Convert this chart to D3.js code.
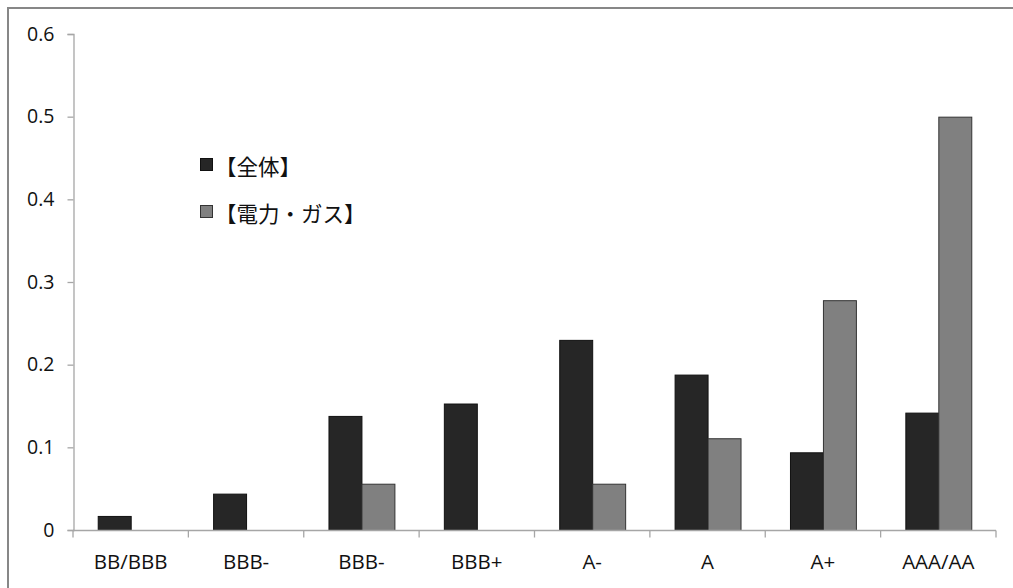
<!DOCTYPE html>
<html>
<head>
<meta charset="utf-8">
<script src="https://cdn.jsdelivr.net/npm/d3@7"></script>
<style>
  html, body { margin: 0; padding: 0; background: #fff; }
  svg { display: block; }
</style>
</head>
<body>
<svg id="chart" width="1013" height="588"></svg>
<script>
// Rating categories along the x axis
const categories = ["BB/BBB", "BBB-", "BBB-", "BBB+", "A-", "A", "A+", "AAA/AA"];
// Series names shown in the legend
const seriesNames = ["【全体】", "【電力・ガス】"];
// Values for each series, one per category
const valuesAll = [0.017, 0.044, 0.138, 0.153, 0.230, 0.188, 0.094, 0.142];
const valuesPower = [0, 0, 0.056, 0, 0.056, 0.111, 0.278, 0.500];
// Y axis ticks
const yTicks = [0, 0.1, 0.2, 0.3, 0.4, 0.5, 0.6];

const seriesValues = [valuesAll, valuesPower];
const fills = ["#262626", "#808080"];
const strokes = ["#111", "#333"];

const svg = d3.select("#chart");
const W = 1013, H = 588;
const plot = { left: 73, right: 996, top: 34, bottom: 530 };

// outer chart frame (extends past the right/bottom edge)
svg.append("rect")
  .attr("x", 8).attr("y", 8)
  .attr("width", W + 20).attr("height", H + 20)
  .attr("fill", "#fff")
  .attr("stroke", "#878787")
  .attr("stroke-width", 2);

// index-based band so duplicate category names keep separate slots
const x0 = d3.scaleBand()
  .domain(d3.range(categories.length))
  .range([plot.left, plot.right])
  .paddingInner(0).paddingOuter(0);

const x1 = d3.scaleBand()
  .domain(d3.range(seriesNames.length))
  .range([0, x0.bandwidth()])
  .paddingInner(0).paddingOuter(0.75);

const y = d3.scaleLinear().domain([0, 0.6]).range([plot.bottom, plot.top]);

// bars
const groups = svg.append("g").selectAll("g")
  .data(categories.map((c, i) => i))
  .join("g")
  .attr("transform", i => `translate(${x0(i)},0)`);

groups.selectAll("rect")
  .data(i => seriesValues.map((vals, s) => ({ s, v: vals[i] })).filter(d => d.v > 0))
  .join("rect")
  .attr("x", d => x1(d.s) + 0.5)
  .attr("width", x1.bandwidth())
  .attr("y", d => y(d.v) + 0.5)
  .attr("height", d => y(0) - y(d.v))
  .attr("fill", d => fills[d.s])
  .attr("stroke", d => strokes[d.s])
  .attr("stroke-width", 1);

// y axis
const yAxis = svg.append("g")
  .attr("transform", `translate(${plot.left + 0.5},0)`)
  .call(d3.axisLeft(y).tickValues(yTicks).tickSize(6).tickPadding(13)
    .tickFormat(d => d === 0 ? "0" : d3.format(".1f")(d)));
yAxis.select(".domain").attr("stroke", "#a6a6a6").attr("stroke-width", 1.3);
yAxis.selectAll(".tick line").attr("stroke", "#a6a6a6").attr("stroke-width", 1.3);
yAxis.selectAll(".tick text")
  .attr("font-family", "'Open Sans', sans-serif")
  .attr("font-size", 19.5)
  .attr("fill", "#111");

// x axis: ticks sit on the category boundaries
const xAxisG = svg.append("g").attr("transform", `translate(0,${plot.bottom + 0.5})`);
xAxisG.append("line")
  .attr("x1", plot.left).attr("x2", plot.right)
  .attr("stroke", "#a6a6a6").attr("stroke-width", 1.3);
const boundaries = d3.range(categories.length + 1).map(i =>
  i < categories.length ? x0(i) : x0(categories.length - 1) + x0.bandwidth());
xAxisG.selectAll("line.tk")
  .data(boundaries)
  .join("line")
  .attr("class", "tk")
  .attr("x1", d => d).attr("x2", d => d)
  .attr("y1", 0).attr("y2", 7)
  .attr("stroke", "#a6a6a6").attr("stroke-width", 1.3);
xAxisG.selectAll("text")
  .data(categories.map((c, i) => ({ c, i })))
  .join("text")
  .attr("x", d => x0(d.i) + x0.bandwidth() / 2)
  .attr("y", 38)
  .attr("text-anchor", "middle")
  .attr("font-family", "'Open Sans', sans-serif")
  .attr("font-size", 20.5)
  .attr("fill", "#111")
  .text(d => d.c);

// legend
const legend = svg.append("g").attr("transform", "translate(200,158)");
const items = legend.selectAll("g")
  .data(seriesNames.map((n, i) => ({ n, i })))
  .join("g")
  .attr("transform", d => `translate(0,${d.i * 47})`);
items.append("rect")
  .attr("x", 0.5).attr("y", 0.5)
  .attr("width", 12).attr("height", 12)
  .attr("fill", d => fills[d.i])
  .attr("stroke", d => strokes[d.i]);
items.append("text")
  .attr("x", 15)
  .attr("y", 7)
  .attr("dominant-baseline", "central")
  .attr("font-family", "'Noto Sans CJK JP', sans-serif")
  .attr("font-size", 21.5)
  .attr("font-weight", 400)
  .attr("fill", "#111")
  .text(d => d.n);
</script>
</body>
</html>
